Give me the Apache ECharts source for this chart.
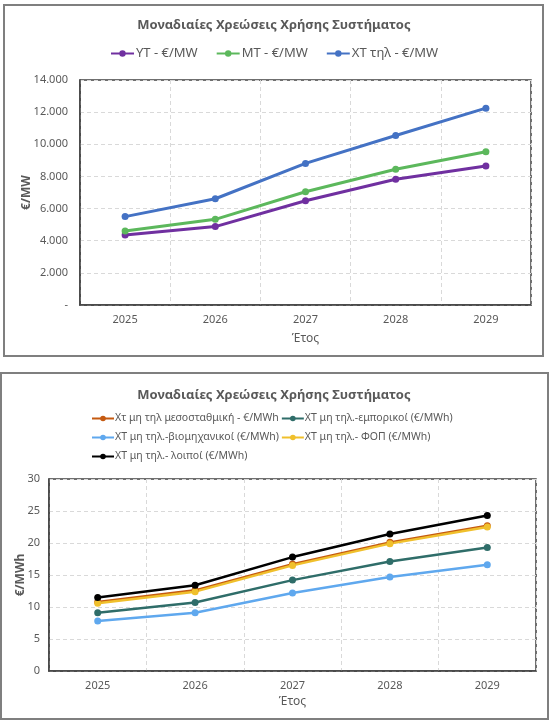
<!DOCTYPE html>
<html>
<head>
<meta charset="utf-8">
<script src="https://cdn.jsdelivr.net/npm/echarts@6/dist/echarts.min.js"></script>
<style>
  html, body { margin: 0; padding: 0; background: #fff; }
  #chart { width: 552px; height: 725px; }
</style>
</head>
<body>
<div id="chart"></div>
<script>
// data
const years = ["2025", "2026", "2027", "2028", "2029"];

const ytValues = [4350, 4880, 6490, 7820, 8650];
const mtValues = [4600, 5330, 7050, 8450, 9530];
const xtValues = [5500, 6610, 8810, 10550, 12250];

const mesoValues = [10.8, 12.6, 16.7, 20.1, 22.7];
const emporValues = [9.1, 10.7, 14.2, 17.1, 19.3];
const viomValues = [7.8, 9.1, 12.2, 14.7, 16.6];
const fopValues = [10.6, 12.4, 16.5, 19.9, 22.5];
const loipoiValues = [11.5, 13.4, 17.8, 21.4, 24.3];

const topNames = ["YT - €/MW", "MT - €/MW", "XT τηλ - €/MW"];
const botNames = [
  "Χτ μη τηλ μεσοσταθμική - €/MWh",
  "ΧΤ μη τηλ.-εμπορικοί (€/MWh)",
  "ΧΤ μη τηλ.-βιομηχανικοί (€/MWh)",
  "ΧΤ μη τηλ.- ΦΟΠ (€/MWh)",
  "ΧΤ μη τηλ.- λοιποί (€/MWh)",
];

const FONT = "Noto Sans";
const grey = "#595959";
const textStyle = { color: grey, fontSize: 11, fontFamily: FONT };
const gridLine = { lineStyle: { color: "#d9d9d9", type: [4, 3] } };

function thousands(v) {
  if (v === 0) return "-";
  return String(v).replace(/\B(?=(\d{3})+(?!\d))/g, ".");
}

function lineSeries(name, data, color, idx, width) {
  return {
    name,
    type: "line",
    xAxisIndex: idx,
    yAxisIndex: idx,
    data,
    symbol: "circle",
    symbolSize: 7,
    lineStyle: { color, width },
    itemStyle: { color },
  };
}

function xAxisOf(idx, nameGap) {
  return {
    type: "category",
    gridIndex: idx,
    data: years,
    name: "Έτος",
    nameLocation: "middle",
    nameGap,
    nameMoveOverlap: false,
    nameTextStyle: { color: grey, fontSize: 12, fontFamily: FONT },
    axisLine: { lineStyle: { color: "#404040", width: 1.5 } },
    axisTick: { inside: true, length: 4, lineStyle: { color: "#404040" } },
    axisLabel: { ...textStyle, margin: 9 },
    splitLine: { show: true, ...gridLine },
  };
}

function yAxisOf(idx, name, max, interval, nameGap, labelMargin, formatter) {
  return {
    type: "value", gridIndex: idx, min: 0, max, interval,
    name, nameLocation: "middle", nameGap, nameMoveOverlap: false,
    nameTextStyle: { color: grey, fontSize: 12, fontWeight: "bold", fontFamily: FONT },
    axisLine: { show: true, lineStyle: { color: "#404040", width: 1.5 } },
    axisLabel: { ...textStyle, margin: labelMargin, formatter },
    splitLine: gridLine,
  };
}

function botLegend(names, top) {
  return {
    data: names, left: 91, top, padding: 0, itemGap: 2, itemWidth: 22, itemHeight: 7,
    textStyle: { color: grey, fontSize: 10.5, fontFamily: FONT, padding: [0, 0, 0, -4] },
  };
}

const titleStyle = { color: grey, fontSize: 13, fontWeight: "bold", fontFamily: FONT };

const chart = echarts.init(document.getElementById("chart"));
chart.setOption({
  animation: false,
  graphic: [
    { type: "rect", shape: { x: 4, y: 5, width: 539, height: 351 }, style: { fill: null, stroke: "#7f7f7f", lineWidth: 2 } },
    { type: "rect", shape: { x: 1, y: 373, width: 547, height: 346 }, style: { fill: null, stroke: "#7f7f7f", lineWidth: 2 } },
  ],
  title: [
    { text: "Μοναδιαίες Χρεώσεις Χρήσης Συστήματος", left: 269, top: 14, textAlign: "center", textStyle: titleStyle },
    { text: "Μοναδιαίες Χρεώσεις Χρήσης Συστήματος", left: 269, top: 384, textAlign: "center", textStyle: titleStyle },
  ],
  legend: [
    {
      data: topNames, left: 110, top: 47, padding: 0, itemGap: 18, itemWidth: 23, itemHeight: 8,
      textStyle: { color: grey, fontSize: 13, fontFamily: FONT, padding: [0, 0, 0, -3] },
    },
    botLegend(botNames.slice(0, 2), 413),
    botLegend(botNames.slice(2, 4), 432),
    botLegend(botNames.slice(4), 451),
  ],
  grid: [
    { left: 80, top: 80, width: 451, height: 225, show: true, borderColor: "#404040", borderWidth: 1.5 },
    { left: 49, top: 479, width: 487, height: 192, show: true, borderColor: "#404040", borderWidth: 1.5 },
  ],
  xAxis: [xAxisOf(0, 28), xAxisOf(1, 25)],
  yAxis: [
    yAxisOf(0, "€/MW", 14000, 2000, 47, 12, thousands),
    yAxisOf(1, "€/MWh", 30, 5, 22, 9),
  ],
  series: [
    lineSeries(topNames[0], ytValues, "#7030A0", 0, 3),
    lineSeries(topNames[1], mtValues, "#5CB85C", 0, 3),
    lineSeries(topNames[2], xtValues, "#4472C4", 0, 3),
    lineSeries(botNames[0], mesoValues, "#C55A11", 1, 2.5),
    lineSeries(botNames[1], emporValues, "#2F6D69", 1, 2.5),
    lineSeries(botNames[2], viomValues, "#5FA8EE", 1, 2.5),
    lineSeries(botNames[3], fopValues, "#F0C02C", 1, 2.5),
    lineSeries(botNames[4], loipoiValues, "#000000", 1, 2.5),
  ],
});
</script>
</body>
</html>
